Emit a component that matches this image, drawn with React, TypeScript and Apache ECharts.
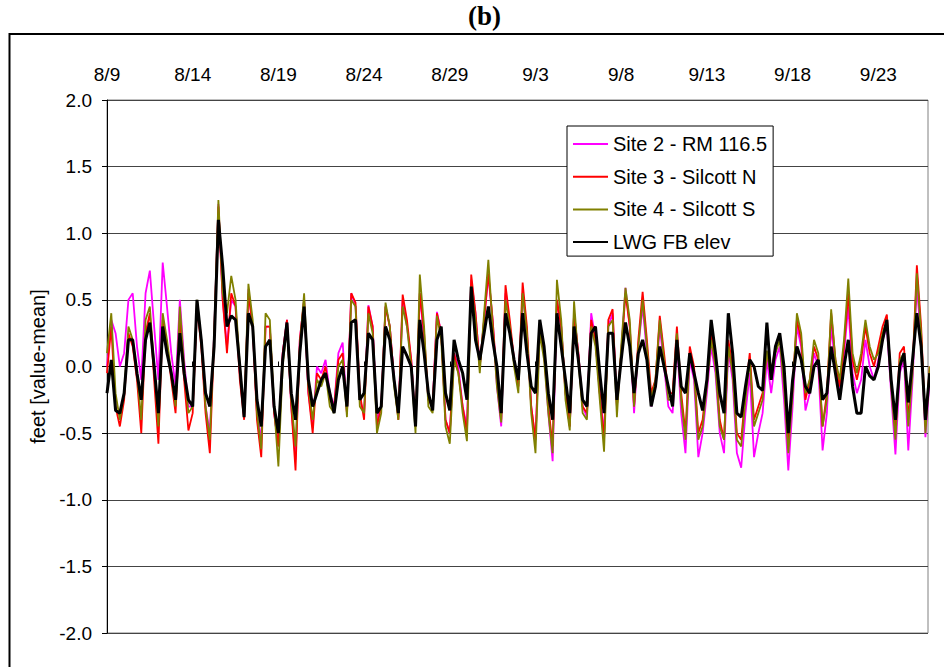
import React, { useEffect, useRef } from "react";
import * as echarts from "echarts";

// time step between samples, in days since 8/9
const STEP = 0.25;
const X_MAX = 47.9;
const xTickLabels = ["8/9", "8/14", "8/19", "8/24", "8/29", "9/3", "9/8", "9/13", "9/18", "9/23"];
const seriesNames = ["Site 2 - RM 116.5", "Site 3 - Silcott N", "Site 4 - Silcott S", "LWG FB elev"];

const lwgFB = [
  -0.2, 0.05, -0.33, -0.35, -0.2, 0.2, 0.2, -0.05, -0.25, 0.2, 0.33, 0.0, -0.35, 0.3, 0.1, -0.05,
  -0.25, 0.25, -0.05, -0.25, -0.3, 0.5, 0.2, -0.2, -0.3, 0.15, 1.1, 0.75, 0.3, 0.38, 0.35, 0.0,
  -0.38, 0.4, 0.3, -0.25, -0.45, 0.15, 0.2, -0.3, -0.5, 0.05, 0.33, -0.2, -0.4, 0.1, 0.45, -0.1,
  -0.3, -0.2, -0.1, -0.05, -0.2, -0.35, -0.1, 0.0, -0.3, 0.33, 0.35, -0.25, -0.2, 0.25, 0.2, -0.35,
  -0.3, 0.3, 0.2, -0.1, -0.35, 0.15, 0.08, 0.0, -0.45, 0.35, 0.1, -0.2, -0.33, 0.2, 0.3, -0.2,
  -0.33, 0.2, 0.05, -0.05, -0.25, 0.6, 0.2, 0.05, 0.25, 0.45, 0.2, 0.0, -0.35, 0.4, 0.25, 0.05,
  -0.1, 0.4, 0.1, -0.15, -0.2, 0.35, 0.15, -0.2, -0.4, 0.4, 0.15, -0.1, -0.35, 0.3, 0.05, -0.25,
  -0.3, 0.25, 0.3, -0.05, -0.35, 0.25, 0.25, -0.25, 0.05, 0.33, 0.15, -0.2, 0.1, 0.2, 0.05, -0.3,
  -0.15, 0.15, 0.0, -0.15, -0.3, 0.2, -0.15, -0.2, 0.1, -0.05, -0.2, -0.33, -0.1, 0.35, 0.1, -0.2,
  -0.35, 0.4, 0.1, -0.35, -0.38, -0.15, 0.05, 0.0, -0.15, -0.18, 0.33, -0.1, 0.15, 0.25, 0.0, -0.5,
  -0.1, 0.15, 0.05, -0.15, -0.2, 0.0, 0.05, -0.25, -0.2, 0.15, -0.05, -0.25, 0.0, 0.2, -0.15, -0.35,
  -0.35, 0.0, -0.07, -0.1, 0.0, 0.2, 0.35, -0.1, -0.4, 0.0, 0.1, -0.27, 0.05, 0.4, 0.15, -0.4,
  -0.05,
];

const site3 = [
  -0.05, 0.3, -0.3, -0.45, -0.25, 0.25, 0.15, -0.1, -0.5, 0.25, 0.4, -0.1, -0.58, 0.35, 0.15, -0.1,
  -0.35, 0.35, -0.1, -0.48, -0.35, 0.45, 0.15, -0.35, -0.65, 0.2, 1.2, 0.5, 0.1, 0.55, 0.45, -0.1,
  -0.4, 0.55, 0.3, -0.4, -0.68, 0.3, 0.3, -0.35, -0.6, 0.1, 0.35, -0.3, -0.78, 0.2, 0.5, -0.2,
  -0.5, -0.05, -0.1, 0.0, -0.25, -0.3, 0.05, 0.1, -0.35, 0.55, 0.48, -0.2, -0.4, 0.45, 0.3, -0.45,
  -0.3, 0.45, 0.3, -0.1, -0.4, 0.54, 0.35, 0.05, -0.45, 0.55, 0.25, -0.25, -0.3, 0.4, 0.25, -0.4,
  -0.5, 0.1, -0.05, -0.3, -0.5, 0.69, 0.4, 0.0, 0.35, 0.7, 0.35, -0.1, -0.4, 0.61, 0.35, 0.05,
  -0.15, 0.63, 0.3, -0.3, -0.55, 0.3, 0.1, -0.3, -0.6, 0.5, 0.3, -0.2, -0.45, 0.4, 0.1, -0.3,
  -0.35, 0.35, 0.2, -0.2, -0.55, 0.35, 0.43, -0.3, 0.1, 0.55, 0.3, -0.3, 0.2, 0.56, 0.2, -0.2,
  -0.1, 0.38, 0.1, -0.2, -0.2, 0.3, -0.2, -0.5, 0.15, 0.0, -0.5, -0.4, -0.1, 0.25, 0.05, -0.4,
  -0.55, 0.2, 0.0, -0.5, -0.55, -0.2, 0.1, -0.4, -0.3, -0.2, 0.1, -0.05, 0.15, 0.25, -0.1, -0.6,
  -0.15, 0.35, 0.2, -0.25, -0.1, 0.15, 0.05, -0.45, -0.2, 0.4, 0.05, -0.15, 0.15, 0.55, 0.05, -0.1,
  0.05, 0.3, 0.1, 0.0, 0.15, 0.3, 0.39, -0.1, -0.5, 0.1, 0.15, -0.4, 0.0, 0.76, 0.3, -0.45,
  0.0,
];

const site4 = [
  0.1, 0.4, -0.2, -0.4, -0.2, 0.3, 0.2, -0.05, -0.4, 0.35, 0.45, 0.0, -0.45, 0.4, 0.2, -0.05,
  -0.3, 0.45, 0.0, -0.35, -0.3, 0.5, 0.2, -0.3, -0.55, 0.25, 1.25, 0.55, 0.4, 0.68, 0.5, 0.0,
  -0.35, 0.62, 0.35, -0.35, -0.62, 0.4, 0.35, -0.3, -0.75, 0.0, 0.3, -0.25, -0.6, 0.15, 0.55, -0.15,
  -0.4, -0.1, -0.15, -0.05, -0.3, -0.35, 0.0, 0.05, -0.38, 0.5, 0.45, -0.3, -0.35, 0.4, 0.25, -0.5,
  -0.35, 0.48, 0.3, -0.15, -0.4, 0.45, 0.3, 0.0, -0.5, 0.69, 0.3, -0.3, -0.35, 0.38, 0.2, -0.45,
  -0.58, 0.05, -0.05, -0.35, -0.56, 0.6, 0.35, -0.05, 0.4, 0.8, 0.3, -0.15, -0.42, 0.5, 0.3, 0.0,
  -0.2, 0.55, 0.25, -0.35, -0.65, 0.25, 0.05, -0.35, -0.65, 0.65, 0.35, -0.25, -0.48, 0.49, 0.05, -0.35,
  -0.4, 0.3, 0.15, -0.25, -0.64, 0.3, 0.35, -0.38, 0.15, 0.59, 0.35, -0.3, 0.15, 0.5, 0.15, -0.25,
  -0.1, 0.35, 0.05, -0.25, -0.25, 0.25, -0.25, -0.55, 0.1, -0.05, -0.55, -0.45, -0.15, 0.2, 0.0, -0.45,
  -0.55, 0.15, -0.05, -0.55, -0.6, -0.25, 0.05, -0.45, -0.35, -0.25, 0.12, -0.1, 0.1, 0.2, -0.15, -0.65,
  -0.2, 0.4, 0.25, -0.2, -0.1, 0.2, 0.1, -0.45, -0.25, 0.43, 0.05, -0.1, 0.2, 0.66, 0.1, -0.05,
  0.1, 0.35, 0.15, 0.05, 0.1, 0.25, 0.35, -0.15, -0.55, 0.05, 0.1, -0.45, -0.05, 0.7, 0.25, -0.5,
  0.0,
];

const site2 = [
  0.0, 0.35, 0.25, 0.0, 0.1, 0.5, 0.55, 0.15, -0.1, 0.55, 0.72, 0.3, -0.1, 0.78, 0.45, 0.1,
  -0.15, 0.5, 0.05, -0.3, -0.3, 0.45, 0.2, -0.3, -0.5, 0.25, 1.22, 0.5, 0.15, 0.5, 0.45, -0.05,
  -0.38, 0.58, 0.3, -0.35, -0.55, 0.3, 0.3, -0.35, -0.6, 0.1, 0.35, -0.3, -0.7, 0.2, 0.5, -0.2,
  -0.45, 0.0, -0.05, 0.05, -0.2, -0.3, 0.1, 0.18, -0.35, 0.55, 0.45, -0.25, -0.35, 0.46, 0.3, -0.4,
  -0.3, 0.45, 0.3, -0.1, -0.38, 0.5, 0.3, 0.05, -0.45, 0.55, 0.2, -0.25, -0.3, 0.41, 0.25, -0.4,
  -0.5, 0.1, 0.0, -0.3, -0.45, 0.65, 0.4, 0.0, 0.35, 0.68, 0.35, -0.15, -0.45, 0.55, 0.3, 0.05,
  -0.15, 0.55, 0.25, -0.3, -0.55, 0.3, 0.1, -0.35, -0.71, 0.5, 0.3, -0.2, -0.45, 0.4, 0.1, -0.3,
  -0.38, 0.4, 0.2, -0.2, -0.5, 0.3, 0.4, -0.3, 0.1, 0.59, 0.3, -0.35, 0.15, 0.45, 0.1, -0.3,
  -0.15, 0.3, 0.0, -0.3, -0.35, 0.2, -0.35, -0.65, 0.05, -0.1, -0.68, -0.5, -0.2, 0.15, -0.05, -0.5,
  -0.65, 0.12, -0.1, -0.65, -0.76, -0.35, -0.05, -0.68, -0.5, -0.35, 0.05, -0.2, 0.05, 0.15, -0.25, -0.78,
  -0.3, 0.3, 0.15, -0.33, -0.2, 0.1, 0.0, -0.63, -0.35, 0.3, 0.0, -0.2, 0.1, 0.45, -0.05, -0.2,
  -0.1, 0.2, 0.0, -0.1, 0.05, 0.2, 0.3, -0.2, -0.66, -0.05, 0.05, -0.63, -0.1, 0.6, 0.2, -0.53,
  -0.1,
];

const toPoints = (vals: number[]) => vals.map((v, i) => [i * STEP, v]);

const FONT = "'Liberation Sans', Arial, sans-serif";

export default function App() {
  const ref = useRef<HTMLDivElement>(null);
  useEffect(() => {
    if (!ref.current) return;
    const chart = echarts.init(ref.current, null, { renderer: "svg" });
    const colors = ["#FF00FF", "#FF0000", "#808000", "#000000"];
    const allData = [site2, site3, site4, lwgFB];
    chart.setOption({
      animation: false,
      backgroundColor: "#fff",
      title: {
        text: "(b)",
        left: 468,
        top: 2,
        padding: 0,
        textStyle: {
          fontSize: 27,
          fontWeight: "bold",
          fontFamily: "'Liberation Serif', 'Times New Roman', serif",
          color: "#000",
        },
      },
      graphic: [
        {
          type: "rect",
          shape: { x: 9.5, y: 34, width: 1000, height: 700 },
          style: { fill: "none", stroke: "#000", lineWidth: 2 },
          silent: true,
        },
      ],
      grid: {
        left: 107,
        right: 16,
        top: 100,
        bottom: 34,
        show: true,
        borderColor: "#808080",
        borderWidth: 1,
        backgroundColor: "transparent",
      },
      legend: {
        orient: "vertical",
        left: 567,
        top: 126,
        data: seriesNames,
        backgroundColor: "#fff",
        borderColor: "#000",
        borderWidth: 1,
        padding: [8, 6, 4, 5],
        itemWidth: 35,
        itemHeight: 20,
        itemGap: 12.7,
        itemStyle: { opacity: 0, borderWidth: 0, color: "rgba(0,0,0,0)" },
        textStyle: { fontSize: 20, lineHeight: 20, color: "#000", fontFamily: FONT },
      },
      xAxis: {
        type: "value",
        position: "top",
        min: 0,
        max: X_MAX,
        interval: 5,
        axisLine: { show: true, lineStyle: { color: "#000", width: 1 } },
        axisTick: { show: true, length: 5, lineStyle: { color: "#000" } },
        splitLine: { show: false },
        axisLabel: {
          margin: 16,
          fontSize: 19,
          color: "#000",
          fontFamily: FONT,
          showMaxLabel: false,
          formatter: (v: number) => xTickLabels[Math.round(v / 5)] ?? "",
        },
      },
      yAxis: {
        type: "value",
        min: -2,
        max: 2,
        interval: 0.5,
        name: "feet [value-mean]",
        nameLocation: "middle",
        nameRotate: 90,
        nameGap: 58,
        nameTextStyle: { fontSize: 20, color: "#000", fontFamily: FONT },
        axisLine: { show: true, lineStyle: { color: "#000", width: 1 } },
        axisTick: { show: true, length: 5, lineStyle: { color: "#000" } },
        splitLine: { show: true, lineStyle: { color: "#444", width: 1 } },
        axisLabel: {
          margin: 15,
          fontSize: 19,
          color: "#000",
          fontFamily: FONT,
          formatter: (v: number) => v.toFixed(1),
        },
      },
      series: seriesNames.map((name, k) => ({
        name,
        type: "line",
        data: toPoints(allData[k]),
        symbol: "none",
        showSymbol: false,
        clip: true,
        color: colors[k],
        lineStyle: { color: colors[k], width: k === 3 ? 3 : 1.8 },
        z: 2 + k,
      })),
    });
    return () => chart.dispose();
  }, []);
  return (
    <div
      ref={ref}
      style={{ position: "fixed", left: 0, top: 0, width: 944, height: 667 }}
    />
  );
}
